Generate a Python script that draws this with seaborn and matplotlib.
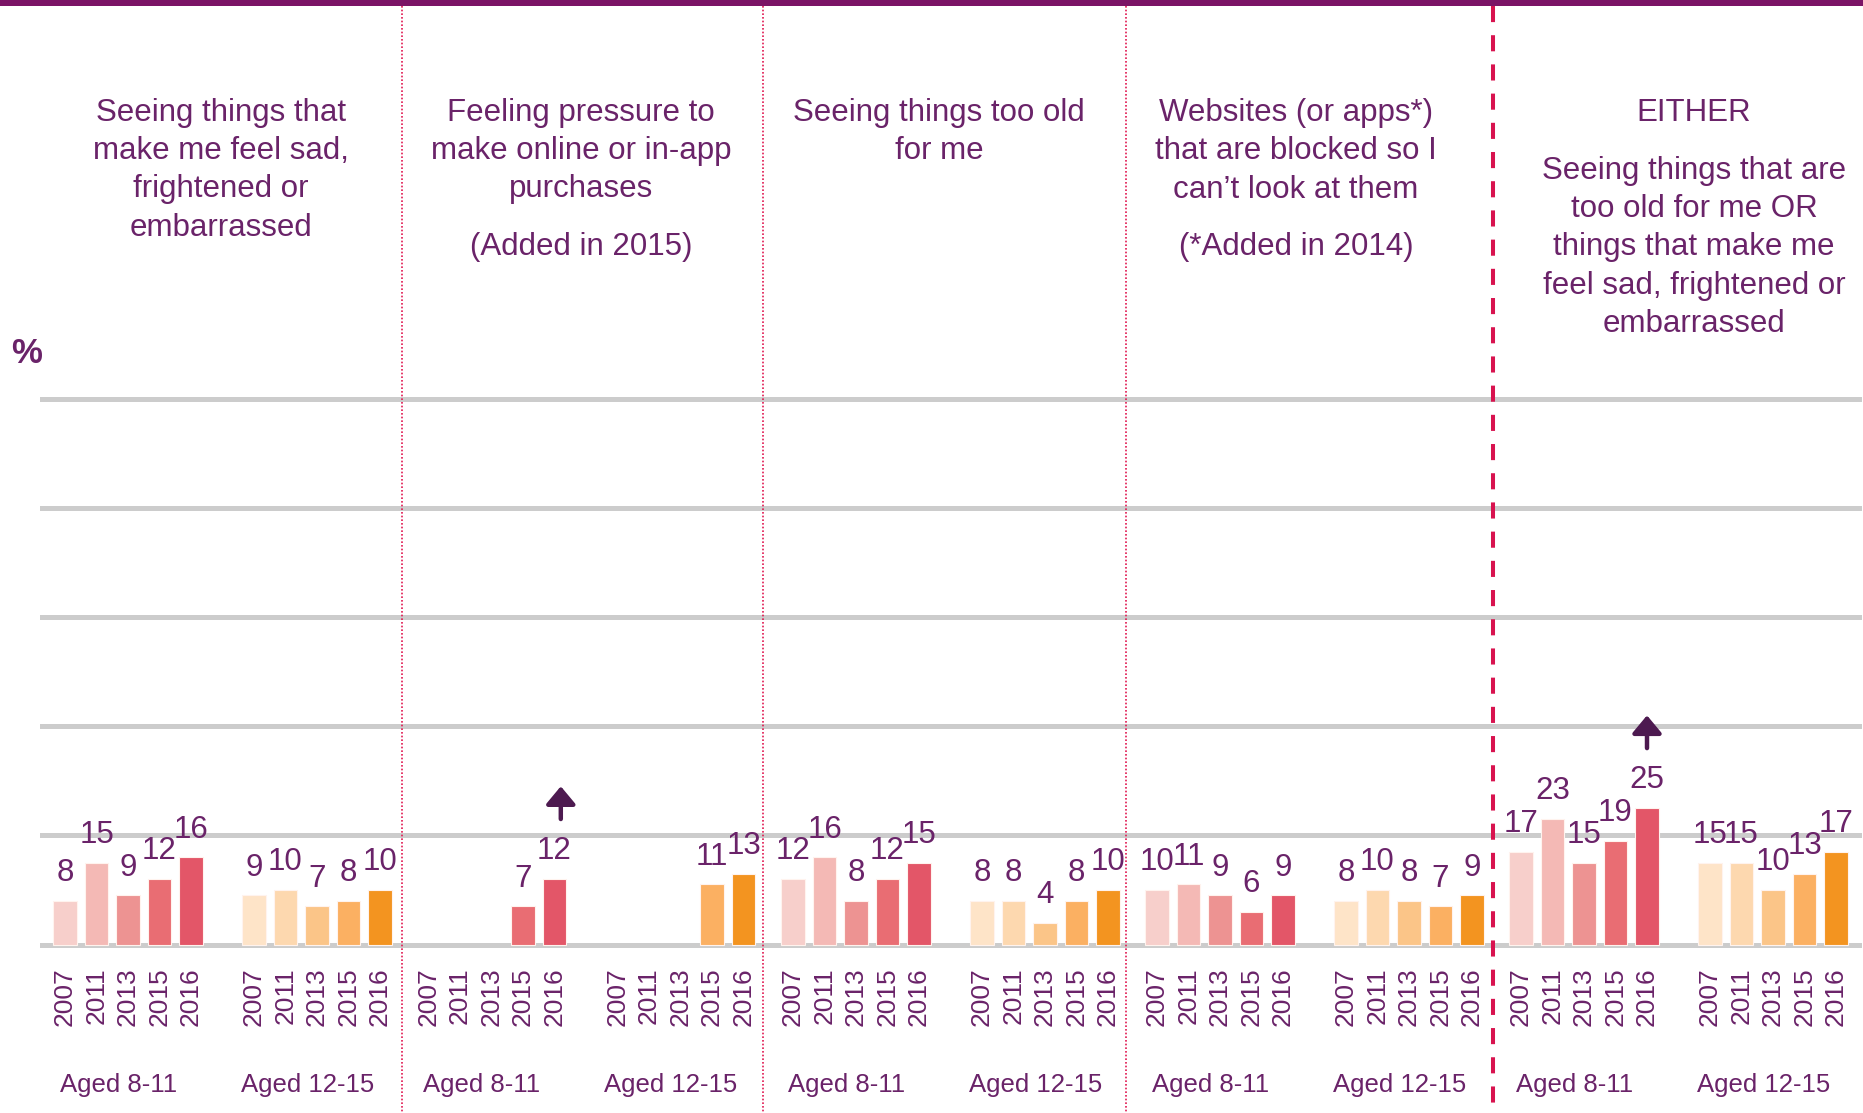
import numpy as np
import pandas as pd
import seaborn as sns
import matplotlib
matplotlib.use("Agg")
import matplotlib.pyplot as plt
from matplotlib.lines import Line2D
from matplotlib.patches import Rectangle
from matplotlib.transforms import blended_transform_factory

# ---------------- data ----------------
years = ["2007", "2011", "2013", "2015", "2016"]
age_groups = ["Aged 8-11", "Aged 12-15"]

sad_8_11 = [8, 15, 9, 12, 16]
sad_12_15 = [9, 10, 7, 8, 10]
purchase_8_11 = [None, None, None, 7, 12]
purchase_12_15 = [None, None, None, 11, 13]
too_old_8_11 = [12, 16, 8, 12, 15]
too_old_12_15 = [8, 8, 4, 8, 10]
blocked_8_11 = [10, 11, 9, 6, 9]
blocked_12_15 = [8, 10, 8, 7, 9]
either_8_11 = [17, 23, 15, 19, 25]
either_12_15 = [15, 15, 10, 13, 17]

panel_values = [
    (sad_8_11, sad_12_15),
    (purchase_8_11, purchase_12_15),
    (too_old_8_11, too_old_12_15),
    (blocked_8_11, blocked_12_15),
    (either_8_11, either_12_15),
]
# significant increase arrows (panel index, age group index, year)
arrows = [(1, 0, "2016"), (4, 0, "2016")]

title_lines = [
    ["Seeing things that", "make me feel sad,", "frightened or", "embarrassed"],
    ["Feeling pressure to", "make online or in-app", "purchases"],
    ["Seeing things too old", "for me"],
    ["Websites (or apps*)", "that are blocked so I", "can\u2019t look at them"],
    ["EITHER"],
]
title_notes = [None, "(Added in 2015)", None, "(*Added in 2014)", None]
either_sub = ["Seeing things that are", "too old for me OR", "things that make me",
              "feel sad, frightened or", "embarrassed"]

young_colors = ["#F7CFCB", "#F4B9B5", "#ED9392", "#E96D73", "#E35668"]
teen_colors = ["#FEE4C8", "#FDD8AF", "#FBC588", "#FBB062", "#F39420"]

# ---------------- style ----------------
W, H = 1863, 1113
DPI = 100
PURPLE = "#6A2369"
ARROW = "#4D1A50"
plt.rcParams["font.family"] = ["Liberation Sans", "DejaVu Sans"]

fig = plt.figure(figsize=(W / DPI, H / DPI), dpi=DPI)
fig.patch.set_facecolor("white")

def fx(px):
    return px / W

def fy(py):
    return 1 - py / H

bounds = [40, 401.5, 762.5, 1125.5, 1493, 1862]
slot0_px = [65, 428.5, 793, 1157, 1521]
arrow_dx = {1: 0.2, 4: 0.0}
pitch = 31.5
y0_px, y100_px = 944.5, 399.0
ppu = (y0_px - y100_px) / 100.0
ylo, yhi = -2, 102
ax_bottom_px = y0_px - ylo * ppu
ax_top_px = y0_px - yhi * ppu

order_keys = ([f"y|{y}" for y in years] + ["gap"] + [f"t|{y}" for y in years])

for p in range(5):
    left, right = bounds[p], bounds[p + 1]
    ax = fig.add_axes([fx(left), fy(ax_bottom_px), fx(right - left),
                       (ax_bottom_px - ax_top_px) / H])
    young, teen = panel_values[p]
    rows = []
    for yr, v in zip(years, young):
        if v is not None:
            rows.append({"slot": f"y|{yr}", "value": v})
    for yr, v in zip(years, teen):
        if v is not None:
            rows.append({"slot": f"t|{yr}", "value": v})
    df = pd.DataFrame(rows)
    palette = {f"y|{y}": c for y, c in zip(years, young_colors)}
    palette.update({f"t|{y}": c for y, c in zip(years, teen_colors)})
    palette = {k: v for k, v in palette.items() if k in set(df["slot"])}
    sns.barplot(data=df, x="slot", y="value", hue="slot", order=order_keys,
                palette=palette, legend=False, width=0.76, saturation=1,
                edgecolor="#FFF3EE", linewidth=0.8, ax=ax, zorder=3)
    xlo = -(slot0_px[p] - left) / pitch
    ax.set_xlim(xlo, xlo + (right - left) / pitch)
    ax.set_ylim(ylo, yhi)
    ax.set_yticks([0, 20, 40, 60, 80, 100])
    ax.set_yticklabels([])
    ax.set_xticks(range(11))
    ax.set_xticklabels(years + [""] + years, rotation=90, fontsize=19,
                       color=PURPLE)
    ax.tick_params(axis="both", length=0)
    ax.tick_params(axis="x", pad=8.4)
    ax.set_xlabel("")
    ax.set_ylabel("")
    ax.grid(axis="y", color="#CCCCCC", linewidth=3.6)
    ax.grid(axis="x", visible=False)
    ax.set_axisbelow(True)
    for s in ax.spines.values():
        s.set_visible(False)
    ax.set_facecolor("none")

    # value labels
    for i, key in enumerate(order_keys):
        if key == "gap":
            continue
        grp, yr = key.split("|")
        vals = young if grp == "y" else teen
        v = vals[years.index(yr)]
        if v is None:
            continue
        ax.text(i, v + 3.6, str(v), ha="center", va="baseline", fontsize=22.5,
                color=PURPLE, zorder=5)

    # arrows
    for (ap, ag, ayr) in arrows:
        if ap != p:
            continue
        i = years.index(ayr) + (0 if ag == 0 else 6) + arrow_dx[ap]
        v = (young if ag == 0 else teen)[years.index(ayr)]
        ax.annotate("", xy=(i, v + 17), xytext=(i, v + 11),
                    arrowprops=dict(arrowstyle="-|>,head_length=0.6,head_width=0.5",
                                    lw=3.2, color=ARROW, shrinkA=0, shrinkB=0,
                                    mutation_scale=18), zorder=6)

    # age group labels
    tr = blended_transform_factory(ax.transData, fig.transFigure)
    for gi, center in enumerate([2, 8]):
        ax.text(center - 0.3, fy(1092), age_groups[gi], transform=tr,
                ha="center", va="baseline", fontsize=18.5, color=PURPLE)

# titles
title_cx = [221, 581, 939, 1296, 1694]
for p in range(5):
    base = 120.5
    for k, line in enumerate(title_lines[p]):
        fig.text(fx(title_cx[p]), fy(base + k * 38.5), line, ha="center",
                 va="baseline", fontsize=22.5, color=PURPLE)
    if title_notes[p]:
        fig.text(fx(title_cx[p]), fy(255), title_notes[p], ha="center",
                 va="baseline", fontsize=22.5, color=PURPLE)
for k, line in enumerate(either_sub):
    fig.text(fx(title_cx[4]), fy(178.5 + k * 38.4), line, ha="center",
             va="baseline", fontsize=22.5, color=PURPLE)

# % sign
fig.text(fx(27), fy(363), "%", ha="center", va="baseline", fontsize=25,
         fontweight="bold", color=PURPLE)

# top bar
fig.add_artist(Rectangle((0, fy(6)), 1, 6 / H, transform=fig.transFigure,
                         facecolor="#7B1466", edgecolor="none", zorder=10))

# separators
for xp in bounds[1:4]:
    fig.add_artist(Line2D([fx(xp), fx(xp)], [fy(6), 0], transform=fig.transFigure,
                          color="#E01850", lw=1.2, linestyle=(0, (1, 1.2)),
                          zorder=9))
fig.add_artist(Line2D([fx(bounds[4]), fx(bounds[4])], [fy(6), 0],
                      transform=fig.transFigure, color="#D8134F", lw=2.9,
                      linestyle=(0, (4, 3.25)), zorder=9))

fig.savefig("out.png", dpi=DPI, facecolor="white")
